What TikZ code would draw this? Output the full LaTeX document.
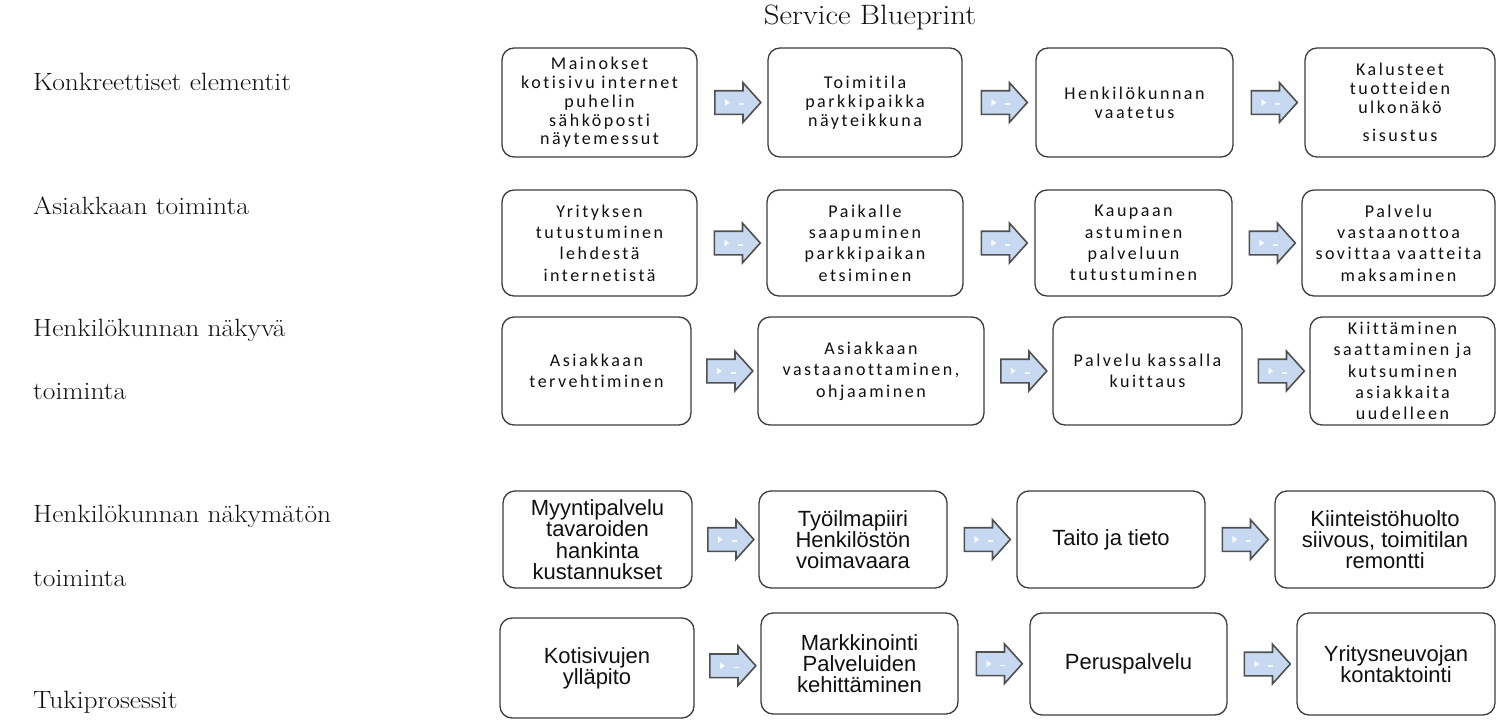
\documentclass[tikz,border=0pt]{standalone}
\usepackage{fontspec}
\usetikzlibrary{shapes.arrows,calc}
\newfontfamily\boxfont[LetterSpace=14,Ligatures=NoCommon]{Carlito}
\newfontfamily\plainsans{Liberation Sans}
\definecolor{boxline}{HTML}{3C3C3C}
\definecolor{arrline}{HTML}{505050}
\definecolor{arrfill}{HTML}{C6D9F1}
\definecolor{ink}{HTML}{111111}
\newcommand\widetext[1]{\scalebox{1.1}[1]{#1}}
\tikzset{
  stepbox/.style={draw=boxline, line width=1.3pt, rounded corners=12pt, fill=white,
    inner sep=2pt, align=center, text=ink},
  tight/.style={font=\boxfont\fontsize{18}{18.8}\selectfont},
  loose/.style={font=\boxfont\fontsize{18}{21.4}\selectfont},
  arial/.style={font=\plainsans\fontsize{22}{21.3}\selectfont},
  blockarr/.style={single arrow, draw=arrline, line width=1.6pt, fill=arrfill,
    inner xsep=0pt, inner ysep=11pt, minimum height=46pt, minimum width=38pt,
    single arrow head extend=8pt, single arrow tip angle=96,
    path picture={
      \fill[white,opacity=.85] ($(path picture bounding box.center)+(-13pt,-3.5pt)$)
        -- ++(5pt,3.5pt) -- ++(-5pt,3.5pt) -- cycle;
      \fill[white,opacity=.85] ($(path picture bounding box.center)+(1pt,-2.5pt)$)
        rectangle ++(5pt,1.6pt);}},
  rowlabel/.style={anchor=west, inner sep=0pt, text=ink, font=\fontsize{25}{28}\selectfont},
}
\begin{document}
\begin{tikzpicture}[x=1pt,y=-1pt]
\useasboundingbox (0,0) rectangle (1497,720);

% title and row labels
\node[text=ink, font=\fontsize{28}{30}\selectfont] (title) at (870,17) {\widetext{Service Blueprint}};
\node[rowlabel] (l1) at (33,82) {\widetext{Konkreettiset elementit}};
\node[rowlabel] (l2) at (33,206) {\widetext{Asiakkaan toiminta}};
\node[rowlabel] (l3a) at (33,330) {\widetext{Henkilökunnan näkyvä}};
\node[rowlabel] (l3b) at (33,392) {\widetext{toiminta}};
\node[rowlabel] (l4a) at (33,516) {\widetext{Henkilökunnan näkymätön}};
\node[rowlabel] (l4b) at (33,579) {\widetext{toiminta}};
\node[rowlabel] (l5) at (33,702) {\widetext{Tukiprosessit}};

% row 1
\node[stepbox,tight,minimum width=195pt,minimum height=109pt] (b11) at (599.5,102.5)
  {Mainokset\\kotisivu internet\\puhelin\\sähköposti\\näytemessut};
\node[stepbox,tight,minimum width=194pt,minimum height=109pt] (b12) at (865,102.5)
  {Toimitila\\parkkipaikka\\näyteikkuna};
\node[stepbox,tight,minimum width=197pt,minimum height=109pt] (b13) at (1134.5,102.5)
  {Henkilökunnan\\vaatetus};
\node[stepbox,tight,minimum width=190pt,minimum height=109pt] (b14) at (1400,102.5)
  {Kalusteet\\tuotteiden\\ulkonäkö\\[9pt]sisustus};

% row 2
\node[stepbox,loose,minimum width=195pt,minimum height=106pt] (b21) at (599.5,243)
  {Yrityksen\\tutustuminen\\lehdestä\\internetistä};
\node[stepbox,loose,minimum width=196pt,minimum height=106pt] (b22) at (865,243)
  {Paikalle\\saapuminen\\parkkipaikan\\etsiminen};
\node[stepbox,loose,minimum width=197pt,minimum height=106pt] (b23) at (1133.5,243)
  {Kaupaan\\astuminen\\palveluun\\tutustuminen};
\node[stepbox,loose,minimum width=193pt,minimum height=106pt] (b24) at (1398.5,243)
  {Palvelu\\vastaanottoa\\sovittaa vaatteita\\maksaminen};

% row 3
\node[stepbox,loose,minimum width=189pt,minimum height=108pt] (b31) at (596.5,371)
  {Asiakkaan\\tervehtiminen};
\node[stepbox,loose,minimum width=226pt,minimum height=108pt] (b32) at (871,371)
  {Asiakkaan\\vastaanottaminen,\\ohjaaminen};
\node[stepbox,loose,minimum width=189pt,minimum height=108pt] (b33) at (1147.5,371)
  {Palvelu kassalla\\kuittaus};
\node[stepbox,loose,minimum width=185pt,minimum height=108pt] (b34) at (1402.5,371)
  {Kiittäminen\\saattaminen ja\\kutsuminen\\asiakkaita\\uudelleen};

% row 4
\node[stepbox,arial,minimum width=189pt,minimum height=97pt] (b41) at (597.5,539.5)
  {Myyntipalvelu\\tavaroiden\\hankinta\\kustannukset};
\node[stepbox,arial,minimum width=188pt,minimum height=97pt] (b42) at (853,539.5)
  {Työilmapiiri\\Henkilöstön\\voimavaara};
\node[stepbox,arial,minimum width=188pt,minimum height=97pt] (b43) at (1111,539.5)
  {Taito ja tieto};
\node[stepbox,arial,minimum width=220pt,minimum height=97pt] (b44) at (1385,539.5)
  {Kiinteistöhuolto\\siivous, toimitilan\\remontti};

% row 5
\node[stepbox,arial,minimum width=194pt,minimum height=100pt] (b51) at (597,668)
  {Kotisivujen\\ylläpito};
\node[stepbox,arial,minimum width=197pt,minimum height=101pt] (b52) at (859.5,663.5)
  {Markkinointi\\Palveluiden\\kehittäminen};
\node[stepbox,arial,minimum width=197pt,minimum height=102pt] (b53) at (1128.5,664)
  {Peruspalvelu};
\node[stepbox,arial,minimum width=198pt,minimum height=102pt] (b54) at (1396,664)
  {Yritysneuvojan\\kontaktointi};

% block arrows between neighbouring steps
\foreach \r/\yy in {1/101, 2/243, 3/371, 4/540, 5/665}{
  \foreach \a/\b in {1/2, 2/3, 3/4}{
    \node[blockarr] (a\r\a) at ($(b\r\a.east)!0.5!(b\r\b.west)$ |- 0,\yy) {};
  }
}
\end{tikzpicture}
\end{document}
